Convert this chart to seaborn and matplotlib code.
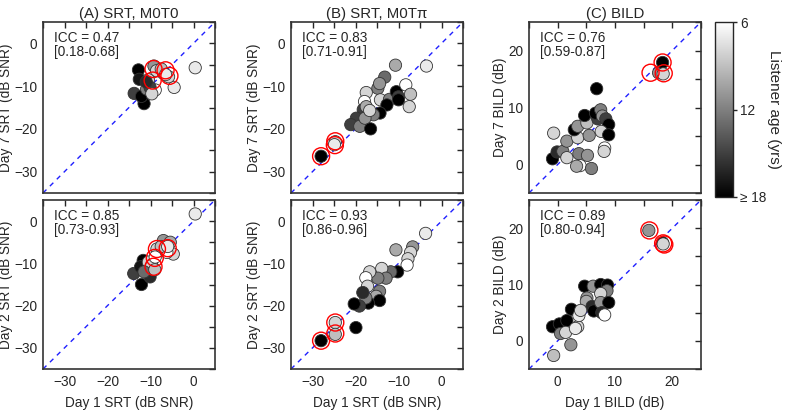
import numpy as np
import pandas as pd
import matplotlib
matplotlib.use("Agg")
import matplotlib.pyplot as plt
import seaborn as sns
from matplotlib.ticker import MultipleLocator
from matplotlib.colors import Normalize
from matplotlib.cm import ScalarMappable

sns.set_style("white")
plt.rcParams['font.family'] = ['Liberation Sans', 'DejaVu Sans']

# ---------------- data ----------------
# Panel A (SRT, M0T0): Day1 vs Day7
a7_x = [0.4, -12.8, -12.6, -13.8, -11.5, -12.1, -4.5, -9.2, -8.6, -5.8, -10.5, -8.9, -10.9, -7.0, -10.1, -9.7, -7.5, -6.5, -11.0]
a7_y = [-5.7, -6.2, -8.4, -11.7, -14.1, -12.4, -10.3, -5.3, -6.4, -7.8, -8.5, -10.9, -10.7, -7.0, -10.3, -11.8, -6.0, -7.3, -9.0]
a7_age = [7, 18, 17, 15, 18, 18, 7, 11, 8, 8, 8, 6, 12, 11, 15, 8, 9, 7, 16]
a7_hx = [-9.3, -6.5, -5.6, -9.5]
a7_hy = [-6.0, -6.3, -7.6, -8.7]
# Panel A: Day1 vs Day2
a2_x = [0.4, -12.1, -13.9, -11.7, -10.9, -10.1, -12.3, -10.5, -9.7, -7.0, -5.4, -4.7, -6.2, -8.5, -8.9, -7.5, -11.5, -9.0, -6.0]
a2_y = [1.7, -15.0, -12.4, -9.3, -11.2, -13.2, -10.8, -9.7, -10.5, -4.6, -5.0, -7.8, -7.4, -6.6, -8.5, -6.0, -12.0, -11.5, -6.0]
a2_age = [7, 18, 15, 18, 18, 16, 17, 8, 8, 11, 10, 8, 6, 8, 6, 9, 13, 9, 7]
a2_hx = [-8.5, -6.0, -9.0, -9.3]
a2_hy = [-6.6, -6.4, -8.7, -10.8]

# Panel B (SRT, M0Tpi): Day1 vs Day7
b7_x = [-3.5, -10.7, -13.2, -14.8, -14.4, -17.5, -17.9, -14.2, -12.1, -10.5, -10.0, -8.3, -7.2, -7.5, -10.0, -12.7, -14.3, -15.8, -17.8, -18.2, -19.8, -21.1, -19.0, -17.8, -16.5, -17.5, -16.7, -24.7, -24.9, -28.0]
b7_y = [-5.3, -5.1, -7.9, -10.5, -9.4, -11.5, -13.6, -13.2, -13.1, -11.3, -12.5, -9.7, -11.9, -14.8, -13.2, -14.4, -16.3, -16.7, -16.7, -15.5, -17.5, -19.0, -19.4, -17.5, -20.0, -14.8, -15.7, -23.0, -23.7, -26.4]
b7_age = [7, 10, 13, 12, 11, 8, 6, 8, 12, 18, 15, 6, 9, 8, 18, 18, 18, 12, 16, 15, 15, 15, 12, 11, 18, 10, 8, 8, 7, 18]
b7_hx = [-24.7, -24.8, -28.0]
b7_hy = [-22.9, -23.8, -26.4]
# Panel B: Day1 vs Day2
b2_x = [-3.7, -6.7, -7.2, -7.8, -8.0, -10.6, -10.2, -11.8, -13.9, -12.9, -14.8, -16.7, -17.6, -17.2, -14.4, -15.2, -14.4, -17.0, -17.6, -19.1, -20.3, -18.3, -19.9, -24.7, -24.7, -28.0]
b2_y = [-2.9, -6.1, -7.4, -8.9, -10.4, -6.8, -12.0, -12.0, -11.2, -13.5, -13.5, -12.0, -13.4, -15.4, -16.6, -17.8, -18.8, -19.4, -18.2, -20.1, -19.6, -16.9, -25.2, -24.0, -26.8, -28.3]
b2_age = [7, 11, 8, 8, 6, 10, 18, 13, 8, 12, 12, 8, 6, 8, 12, 10, 18, 18, 12, 15, 18, 16, 18, 8, 9, 18]
b2_hx = [-24.7, -24.7, -28.0]
b2_hy = [-24.0, -26.6, -28.3]

# Panel C (BILD): Day1 vs Day7
c7_x = [6.8, 17.6, 18.3, 18.4, -0.7, -0.9, -0.1, 0.9, 1.6, 1.6, 3.5, 2.9, 3.5, 5.1, 4.7, 5.5, 7.0, 6.6, 7.5, 7.8, 8.4, 8.9, 7.6, 8.9, 8.2, 8.1, 3.7, 5.2, 3.9, 5.9, 3.3]
c7_y = [13.3, 16.1, 17.9, 15.9, 5.5, 1.0, 2.2, 2.3, 1.2, 4.1, 4.7, 6.1, 6.7, 7.3, 8.6, 5.1, 8.0, 9.0, 9.6, 8.5, 8.0, 7.0, 5.8, 5.2, 2.9, 2.3, 1.9, 1.6, -0.2, -0.7, -0.3]
c7_age = [18, 11, 18, 8, 8, 18, 16, 12, 8, 11, 8, 18, 11, 9, 18, 11, 15, 18, 12, 11, 15, 18, 8, 18, 6, 8, 12, 11, 6, 12, 10]
c7_hx = [16.2, 18.3, 18.5]
c7_hy = [16.1, 17.9, 16.0]
# Panel C: Day1 vs Day2
c2_x = [15.9, 18.3, 18.4, -0.7, -0.9, 0.3, 1.6, 2.4, 0.5, 1.4, 2.3, 3.5, 3.7, 4.7, 6.2, 7.5, 8.7, 8.6, 7.5, 5.1, 5.0, 6.0, 6.3, 7.5, 8.9, 7.7, 8.2, 4.0, 3.1]
c2_y = [19.6, 17.4, 17.2, -2.6, 2.5, 3.0, 3.6, 5.6, 1.3, 1.5, -0.7, 2.5, 4.5, 9.7, 9.7, 10.0, 9.9, 8.9, 8.4, 7.6, 7.0, 6.1, 5.3, 6.8, 6.8, 5.0, 4.6, 5.4, 2.2]
c2_age = [11, 18, 8, 9, 18, 18, 18, 18, 12, 8, 11, 8, 7, 18, 11, 18, 18, 12, 8, 11, 10, 16, 18, 11, 18, 16, 6, 8, 7]
c2_hx = [16.0, 18.4, 18.6]
c2_hy = [19.6, 17.3, 17.1]

titles = ["(A) SRT, M0T0", "(B) SRT, M0T\u03c0", "(C) BILD"]
icc_top = ["ICC = 0.47\n[0.18-0.68]", "ICC = 0.83\n[0.71-0.91]", "ICC = 0.76\n[0.59-0.87]"]
icc_bot = ["ICC = 0.85\n[0.73-0.93]", "ICC = 0.93\n[0.86-0.96]", "ICC = 0.89\n[0.80-0.94]"]
ylab_top = ["Day 7 SRT (dB SNR)", "Day 7 SRT (dB SNR)", "Day 7 BILD (dB)"]
ylab_bot = ["Day 2 SRT (dB SNR)", "Day 2 SRT (dB SNR)", "Day 2 BILD (dB)"]
xlab = ["Day 1 SRT (dB SNR)", "Day 1 SRT (dB SNR)", "Day 1 BILD (dB)"]
age_ticks = [6, 12, 18]
age_ticklabels = ["6", "12", "\u2265 18"]

top_data = [(a7_x, a7_y, a7_age, a7_hx, a7_hy), (b7_x, b7_y, b7_age, b7_hx, b7_hy), (c7_x, c7_y, c7_age, c7_hx, c7_hy)]
bot_data = [(a2_x, a2_y, a2_age, a2_hx, a2_hy), (b2_x, b2_y, b2_age, b2_hx, b2_hy), (c2_x, c2_y, c2_age, c2_hx, c2_hy)]
lims = [(-35, 5), (-35, 5), (-5, 25)]

# ---------------- figure ----------------
fig = plt.figure(figsize=(7.85, 4.13), dpi=100)
lefts = [43 / 785, 291 / 785, 529 / 785]
w = 172 / 785
top_b, top_h = 1 - 193 / 413, 171 / 413
bot_b, bot_h = 1 - 369 / 413, 169 / 413

FS = 9.8

def draw(ax, data, lim, icc, ylabel, xlabel, show_x):
    x, y, age, hx, hy = data
    ax.plot(lim, lim, color="#1f1fff", ls=(0, (3.5, 3.5)), lw=1.0, zorder=1)
    df = pd.DataFrame({"x": x, "y": y, "age": age})
    sns.scatterplot(data=df, x="x", y="y", hue="age", palette="gray_r", hue_norm=(6, 18),
                    s=78, edgecolor="#333333", linewidth=0.6, legend=False, ax=ax, zorder=3)
    ax.scatter(hx, hy, s=150, facecolors="none", edgecolors="red", linewidths=1.0, zorder=4)
    ax.set_xlim(lim)
    ax.set_ylim(lim)
    ax.xaxis.set_major_locator(MultipleLocator(10))
    ax.yaxis.set_major_locator(MultipleLocator(10))
    ax.xaxis.set_minor_locator(MultipleLocator(5))
    ax.yaxis.set_minor_locator(MultipleLocator(5))
    ax.tick_params(which="both", direction="in", top=True, right=True, length=4.5, width=1,
                   labelsize=FS, pad=4)
    for sp in ax.spines.values():
        sp.set_linewidth(1.2)
        sp.set_color("#333333")
    ax.text(0.065, 0.945, icc, transform=ax.transAxes, ha="left", va="top", fontsize=FS,
            linespacing=1.0)
    ax.set_ylabel(ylabel, fontsize=FS, labelpad=1)
    if show_x:
        ax.set_xlabel(xlabel, fontsize=FS, labelpad=5)
    else:
        ax.set_xlabel("")
        ax.tick_params(labelbottom=False)

for i in range(3):
    axt = fig.add_axes([lefts[i], top_b, w, top_h])
    draw(axt, top_data[i], lims[i], icc_top[i], ylab_top[i], xlab[i], False)
    axt.set_title(titles[i], fontsize=10.8, pad=3)
    axb = fig.add_axes([lefts[i], bot_b, w, bot_h])
    draw(axb, bot_data[i], lims[i], icc_bot[i], ylab_bot[i], xlab[i], True)

cax = fig.add_axes([715 / 785, 1 - 197 / 413, 18 / 785, 175 / 413])
sm = ScalarMappable(norm=Normalize(6, 18), cmap="gray_r")
cb = fig.colorbar(sm, cax=cax)
cb.set_ticks(age_ticks)
cb.set_ticklabels(age_ticklabels)
cax.invert_yaxis()
cb.ax.tick_params(labelsize=FS, length=3, width=1, pad=2)
cb.outline.set_linewidth(1.0)
cb.set_label("Listener age (yrs)", rotation=270, fontsize=11, va="center")
cax.yaxis.set_label_coords(3.3, 0.5)

fig.savefig("out.png", dpi=100)
